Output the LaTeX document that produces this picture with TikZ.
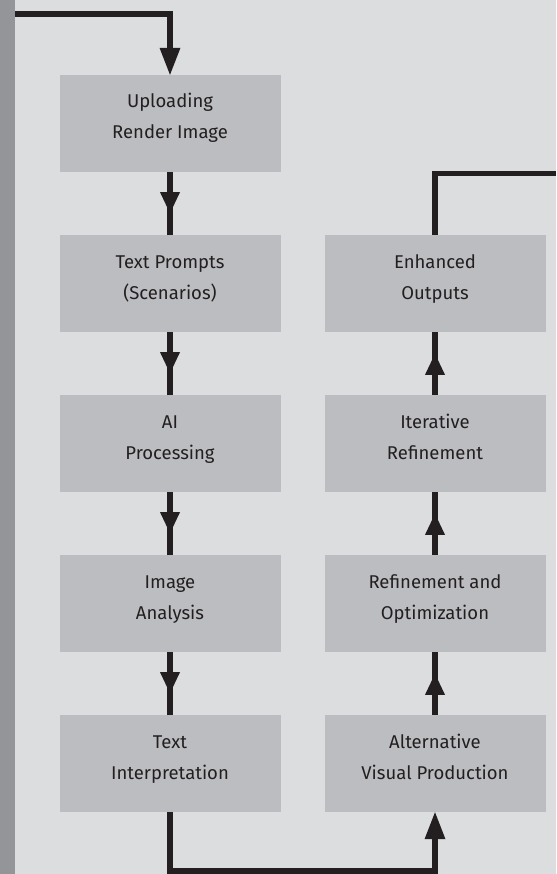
\documentclass[tikz,border=0pt]{standalone}
\usepackage{fontspec}
\setmainfont{Fira Sans}
\usetikzlibrary{arrows.meta,decorations.markings}
\definecolor{bgc}{HTML}{DCDDDF}
\definecolor{boxc}{HTML}{BCBDC0}
\definecolor{barc}{HTML}{939598}
\definecolor{linec}{HTML}{231F20}
\newcommand{\tstrut}{\rule[-15pt]{0pt}{30pt}}
\tikzset{
  flowbox/.style={fill=boxc, draw=none, minimum width=221pt, minimum height=97pt,
    inner sep=0pt, align=center, text=linec, font=\fontsize{18.5}{31}\selectfont},
  conn/.style={draw=linec, line width=5.5pt, line join=miter},
  endarrow/.style={-{Triangle[length=27pt,width=21pt,line width=0pt]}},
  midarrow/.style={postaction={decorate}, decoration={markings,
    mark=at position 41pt with {\arrow{Triangle[length=21pt,width=20pt,line width=0pt]}}}}
}
\begin{document}
\begin{tikzpicture}[x=1pt,y=-1pt]
\useasboundingbox (0,0) rectangle (556,874);
\fill[bgc] (0,0) rectangle (556,874);
\fill[barc] (0,0) rectangle (15,874);

\node[flowbox] (l1) at (170,123.5) {\tstrut Uploading\\\tstrut Render Image};
\node[flowbox] (l2) at (170,283.5) {\tstrut Text Prompts\\\tstrut (Scenarios)};
\node[flowbox] (l3) at (170,443.5) {\tstrut AI\\\tstrut Processing};
\node[flowbox] (l4) at (170,603.5) {\tstrut Image\\\tstrut Analysis};
\node[flowbox] (l5) at (170,763.5) {\tstrut Text\\\tstrut Interpretation};

\node[flowbox] (r1) at (435,283.5) {\tstrut Enhanced\\\tstrut Outputs};
\node[flowbox] (r2) at (435,443.5) {\tstrut Iterative\\\tstrut Refinement};
\node[flowbox] (r3) at (435,603.5) {\tstrut Refinement and\\\tstrut Optimization};
\node[flowbox] (r4) at (435,763.5) {\tstrut Alternative\\\tstrut Visual Production};

\coordinate (start) at (15,14);
\coordinate (tr) at (556,173.5);
\coordinate (bot) at (300,871);

\draw[conn,endarrow] (start) -| (l1.north);
\draw[conn,midarrow] (l1.south) -- (l2.north);
\draw[conn,midarrow] (l2.south) -- (l3.north);
\draw[conn,midarrow] (l3.south) -- (l4.north);
\draw[conn,midarrow] (l4.south) -- (l5.north);
\draw[conn,endarrow] (l5.south) |- (bot) -| (r4.south);
\draw[conn,midarrow] (r4.north) -- (r3.south);
\draw[conn,midarrow] (r3.north) -- (r2.south);
\draw[conn,midarrow] (r2.north) -- (r1.south);
\draw[conn] (r1.north) |- (tr);
\end{tikzpicture}
\end{document}
